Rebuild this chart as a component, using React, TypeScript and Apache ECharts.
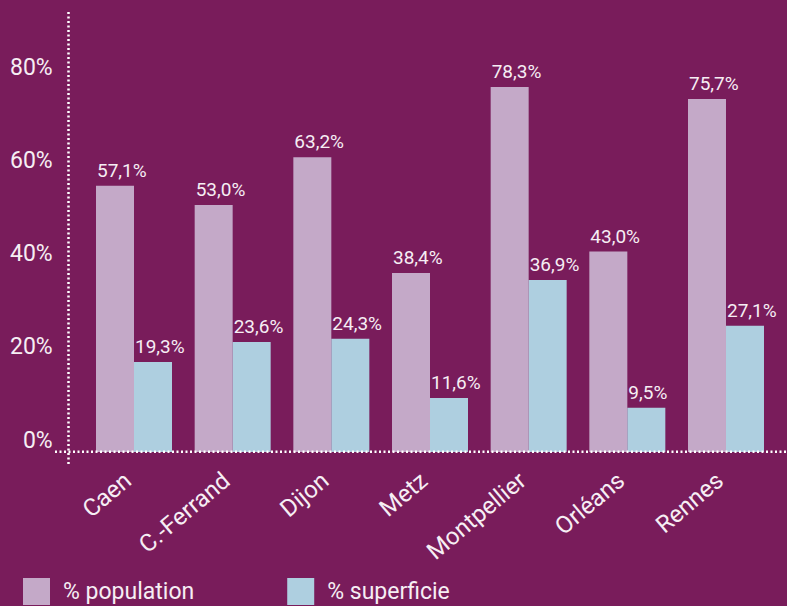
import React, { useEffect, useRef } from "react";
import * as echarts from "echarts";

const categories = ["Caen", "C.-Ferrand", "Dijon", "Metz", "Montpellier", "Orléans", "Rennes"];
const populationValues = [57.1, 53.0, 63.2, 38.4, 78.3, 43.0, 75.7];
const superficieValues = [19.3, 23.6, 24.3, 11.6, 36.9, 9.5, 27.1];
const seriesNames = ["% population", "% superficie"];
const yTicks = [0, 20, 40, 60, 80];

const BG = "#791C5B";
const POP = "#C4A9C8";
const SUP = "#AECFE0";
const TXT = "#F6EEF4";
const FONT = "Roboto, 'Noto Sans', sans-serif";
const WEIGHT = 400;

const fmt = (v: number) => v.toFixed(1).replace(".", ",") + "%";

export default function App() {
  const ref = useRef<HTMLDivElement>(null);
  useEffect(() => {
    document.body.style.margin = "0";
    if (!ref.current) return;
    const chart = echarts.init(ref.current, undefined, { renderer: "svg" });
    const barLabel = {
      show: true,
      position: [1, -6] as any,
      align: "left",
      verticalAlign: "bottom",
      color: TXT,
      fontFamily: FONT,
      fontWeight: WEIGHT,
      fontSize: 19,
      formatter: (p: any) => fmt(p.value),
    };
    chart.setOption({
      animation: false,
      backgroundColor: BG,
      textStyle: { fontFamily: FONT },
      grid: { left: 84.67, right: 11.67, top: 79, bottom: 154, containLabel: false },
      legend: {
        left: 18,
        top: 573,
        itemWidth: 27,
        itemHeight: 27,
        itemGap: 93,
        icon: "rect",
        data: seriesNames,
        textStyle: {
          color: TXT,
          fontSize: 23,
          fontFamily: FONT,
          fontWeight: WEIGHT,
          padding: [0, 0, 0, 8],
        },
      },
      xAxis: {
        type: "category",
        data: categories,
        axisLine: { show: false },
        axisTick: { show: false },
        axisLabel: {
          rotate: 40,
          margin: 20,
          color: TXT,
          fontSize: 24,
          fontFamily: FONT,
          fontWeight: WEIGHT,
          padding: [0, 8, 0, 0],
          interval: 0,
        },
      },
      yAxis: {
        type: "value",
        min: yTicks[0],
        max: yTicks[yTicks.length - 1],
        interval: 20,
        axisLine: { show: false },
        axisTick: { show: false },
        splitLine: { show: false },
        axisLabel: {
          margin: 32,
          color: TXT,
          fontSize: 23,
          fontFamily: FONT,
          fontWeight: WEIGHT,
          verticalAlign: "bottom",
          lineHeight: 24,
          formatter: (v: number) => v + "%",
        },
      },
      series: [
        {
          name: seriesNames[0],
          type: "bar",
          data: populationValues,
          barWidth: 38,
          barGap: "0%",
          itemStyle: { color: POP },
          label: barLabel,
        },
        {
          name: seriesNames[1],
          type: "bar",
          data: superficieValues,
          barWidth: 38,
          barGap: "0%",
          itemStyle: { color: SUP },
          label: barLabel,
        },
      ],
      graphic: [
        {
          type: "line",
          shape: { x1: 68.5, y1: 12, x2: 68.5, y2: 466 },
          style: { stroke: "#FFFFFF", lineWidth: 2.5, lineDash: [2, 2.5] },
          z: 10,
        },
        {
          type: "line",
          shape: { x1: 55, y1: 451.7, x2: 787, y2: 451.7 },
          style: { stroke: "#FFFFFF", lineWidth: 2.5, lineDash: [2, 2.5] },
          z: 10,
        },
      ],
    });
    return () => chart.dispose();
  }, []);
  return <div ref={ref} style={{ width: 787, height: 606, background: BG }} />;
}
